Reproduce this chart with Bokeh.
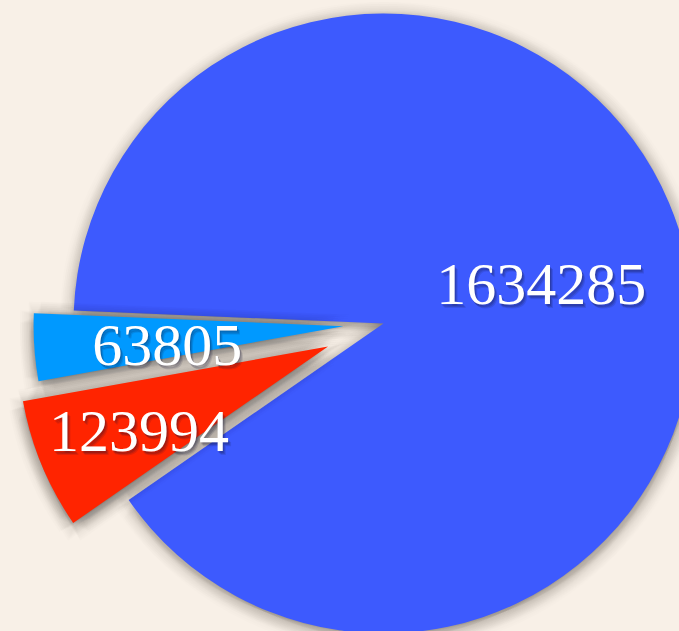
import numpy as np
from bokeh.plotting import figure
from bokeh.models import Range1d, ColumnDataSource
from bokeh.core.properties import value
from bokeh.embed import file_html
from bokeh.resources import INLINE

# ---- data (in angular order, anticlockwise) ----
labels = ["63805", "123994", "1634285"]
values = [63805, 123994, 1634285]
colors = ["#0099ff", "#ff2400", "#3d5afe"]

# ---- layout parameters ----
BG = "#f8f0e7"
W, H = 679, 631
CX, CY, R = 383.0, 308.0, 310.0
START_DEG = 177.6
explode = [40.0, 60.0, 0.0]
label_frac = [0.57, 0.66, 0.53]
LABEL_DROP = 7.0

vals = np.array(values, dtype=float)
frac = vals / vals.sum()
ends = np.deg2rad(START_DEG) + np.cumsum(frac) * 2 * np.pi
starts = ends - frac * 2 * np.pi
mids = (starts + ends) / 2
cx = CX + np.array(explode) * np.cos(mids)
cy = CY + np.array(explode) * np.sin(mids)

p = figure(width=W, height=H, x_range=Range1d(0, W), y_range=Range1d(0, H),
           output_backend="svg", toolbar_location=None, min_border=0,
           x_axis_location=None, y_axis_location=None,
           background_fill_color=BG, border_fill_color=BG,
           outline_line_color=None)
p.grid.visible = False


def shadow_source(idx):
    xs, ys, ss, es = [], [], [], []
    for i in idx:
        for k in (2, 4, 6, 8, 10, 12, 14, 16):
            for d in range(8):
                a = d * np.pi / 4 + np.pi / 8
                xs.append(cx[i] + k * np.cos(a) + 1.0)
                ys.append(cy[i] + k * np.sin(a) - 3.0)
                ss.append(starts[i])
                es.append(ends[i])
    return ColumnDataSource(dict(x=xs, y=ys, s=ss, e=es))


# blue (main) slice shadow + slice
p.wedge(x="x", y="y", radius=R, start_angle="s", end_angle="e",
        source=shadow_source([2]), fill_color="#201a14", fill_alpha=0.009,
        line_color=None)
p.wedge(x=[cx[2]], y=[cy[2]], radius=R, start_angle=[starts[2]], end_angle=[ends[2]],
        fill_color=colors[2], line_color=None)

# exploded slices shadow + slices
p.wedge(x="x", y="y", radius=R, start_angle="s", end_angle="e",
        source=shadow_source([0, 1]), fill_color="#14100c", fill_alpha=0.010,
        line_color=None)
p.wedge(x=list(cx[:2]), y=list(cy[:2]), radius=R, start_angle=list(starts[:2]),
        end_angle=list(ends[:2]), fill_color=colors[:2], line_color=None)

# labels
tx = cx + np.array(label_frac) * R * np.cos(mids)
ty = cy + np.array(label_frac) * R * np.sin(mids) - LABEL_DROP
for (ox, oy, al) in ((3.0, -4.0, 0.12), (2.0, -3.0, 0.16), (1.0, -1.5, 0.18)):
    p.text(x=list(tx + ox), y=list(ty + oy), text=labels,
           text_font=value("Liberation Serif"), text_font_size=value("60px"),
           text_color="#101030", text_alpha=al,
           text_align="center", text_baseline="middle")
p.text(x=list(tx), y=list(ty), text=labels,
       text_font=value("Liberation Serif"), text_font_size=value("60px"),
       text_color="white", text_align="center", text_baseline="middle")

html = file_html(p, INLINE)
html = html.replace("</head>", "<style>html, body { background: %s; }</style></head>" % BG, 1)
open("out.html", "w").write(html)
